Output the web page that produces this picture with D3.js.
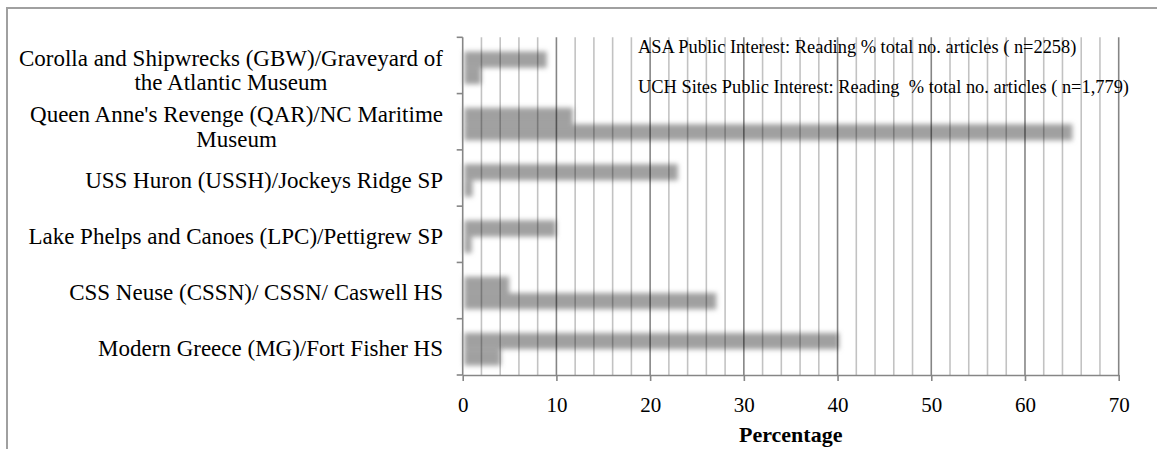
<!DOCTYPE html>
<html>
<head>
<meta charset="utf-8">
<script src="https://cdn.jsdelivr.net/npm/d3@7"></script>
<style>
  html, body { margin: 0; padding: 0; background: #fff; }
  svg { display: block; }
  text { font-family: "Liberation Serif", "Times New Roman", serif; fill: #000; }
</style>
</head>
<body>
<svg id="chart" width="1157" height="449"></svg>
<script>
// ---- data ----
const categories = [
  ["Corolla and Shipwrecks (GBW)/Graveyard of", "the Atlantic Museum"],
  ["Queen Anne's Revenge (QAR)/NC Maritime", "Museum"],
  ["USS Huron (USSH)/Jockeys Ridge SP"],
  ["Lake Phelps and Canoes (LPC)/Pettigrew SP"],
  ["CSS Neuse (CSSN)/ CSSN/ Caswell HS"],
  ["Modern Greece (MG)/Fort Fisher HS"]
];
const seriesNames = [
  "ASA Public Interest: Reading % total no. articles ( n=2258)",
  "UCH Sites Public Interest: Reading  % total no. articles ( n=1,779)"
];
const topBarValues = [8.8, 11.6, 22.8, 9.8, 4.8, 40.0];
const bottomBarValues = [1.8, 64.9, 0.9, 0.8, 26.9, 3.9];
const xTicks = [0, 10, 20, 30, 40, 50, 60, 70];
const xMinorTicks = d3.range(0, 71, 2);
const xTitle = "Percentage";

// ---- layout ----
const svg = d3.select("#chart");
const L = 462.7, R = 1118.7, T = 37.3, B = 375;
const catKeys = categories.map((c, i) => i);

const x = d3.scaleLinear().domain([0, 70]).range([L, R]);
const y = d3.scaleBand().domain(catKeys).range([T, B]).paddingInner(0).paddingOuter(0);
const sub = d3.scaleBand().domain(["top", "bottom"]).range([0, y.bandwidth()]).paddingInner(0).paddingOuter(0.72);

// outer frame (left and top only)
svg.append("path")
  .attr("d", `M7,449 L7,8 L1157,8`)
  .attr("fill", "none").attr("stroke", "#a0a0a0").attr("stroke-width", 2);

// blur filter for bars
const defs = svg.append("defs");
defs.append("filter").attr("id", "soft").attr("x", "-10%").attr("y", "-50%").attr("width", "120%").attr("height", "200%")
  .append("feGaussianBlur").attr("stdDeviation", 2.4);

// bars
const rows = catKeys.map(i => ({ i, top: topBarValues[i], bottom: bottomBarValues[i] }));
const gBars = svg.append("g").attr("filter", "url(#soft)").attr("transform", "translate(1.5,2.4)");
["top", "bottom"].forEach(s => {
  gBars.selectAll(null).data(rows).enter().append("rect")
    .attr("x", x(0))
    .attr("y", d => y(d.i) + sub(s))
    .attr("width", d => x(d[s]) - x(0))
    .attr("height", sub.bandwidth())
    .attr("fill", "#a0a0a0");
});

// gridlines (drawn above bars)
svg.append("g").selectAll("line").data(xMinorTicks.filter(v => v % 10 !== 0)).enter().append("line")
  .attr("x1", d => x(d)).attr("x2", d => x(d)).attr("y1", T).attr("y2", B)
  .attr("stroke", "rgba(0,0,0,0.24)").attr("stroke-width", 1.6);
svg.append("g").selectAll("line").data(xTicks.filter(v => v !== 0)).enter().append("line")
  .attr("x1", d => x(d)).attr("x2", d => x(d)).attr("y1", T).attr("y2", B)
  .attr("stroke", "rgba(0,0,0,0.48)").attr("stroke-width", 1.6);

// x axis
const xAxis = svg.append("g").attr("transform", `translate(0,${B})`)
  .call(d3.axisBottom(x).tickValues(xTicks).tickSize(6).tickPadding(16).tickSizeOuter(0));
xAxis.select(".domain").attr("stroke", "#868686").attr("stroke-width", 1.6);
xAxis.selectAll(".tick line").attr("stroke", "#868686").attr("stroke-width", 1.6);
xAxis.selectAll(".tick text").attr("font-size", 21).attr("fill", "#000");

// y axis line and boundary ticks
svg.append("line").attr("x1", L).attr("x2", L).attr("y1", T).attr("y2", B)
  .attr("stroke", "#868686").attr("stroke-width", 1.6);
const bounds = catKeys.map(i => y(i)).concat([B]);
svg.append("g").selectAll("line").data(bounds).enter().append("line")
  .attr("x1", L - 6).attr("x2", L).attr("y1", d => d).attr("y2", d => d)
  .attr("stroke", "#868686").attr("stroke-width", 1.6);

// category labels
const labelRight = 443;
categories.forEach((lines, i) => {
  const cy = y(i) + y.bandwidth() / 2;
  const g = svg.append("g");
  if (lines.length === 1) {
    g.append("text").attr("x", labelRight).attr("y", cy + 9.5)
      .attr("text-anchor", "end").attr("font-size", 23).text(lines[0]);
  } else {
    const texts = lines.map((ln, k) => g.append("text")
      .attr("y", cy + 0.5 + k * 24.5).attr("font-size", 23).attr("text-anchor", "middle").text(ln));
    const maxW = d3.max(texts, t => t.node().getComputedTextLength());
    texts.forEach(t => t.attr("x", labelRight - maxW / 2));
  }
});

// x title
svg.append("text").attr("x", (L + R) / 2).attr("y", 442).attr("text-anchor", "middle")
  .attr("font-size", 22).attr("font-weight", "bold").text(xTitle);

// legend (no visible swatches)
const legendBase = [53, 93];
seriesNames.forEach((n, k) => {
  svg.append("text").attr("x", 638).attr("y", legendBase[k]).attr("font-size", 18.4)
    .style("white-space", "pre").text(n);
});
</script>
</body>
</html>
